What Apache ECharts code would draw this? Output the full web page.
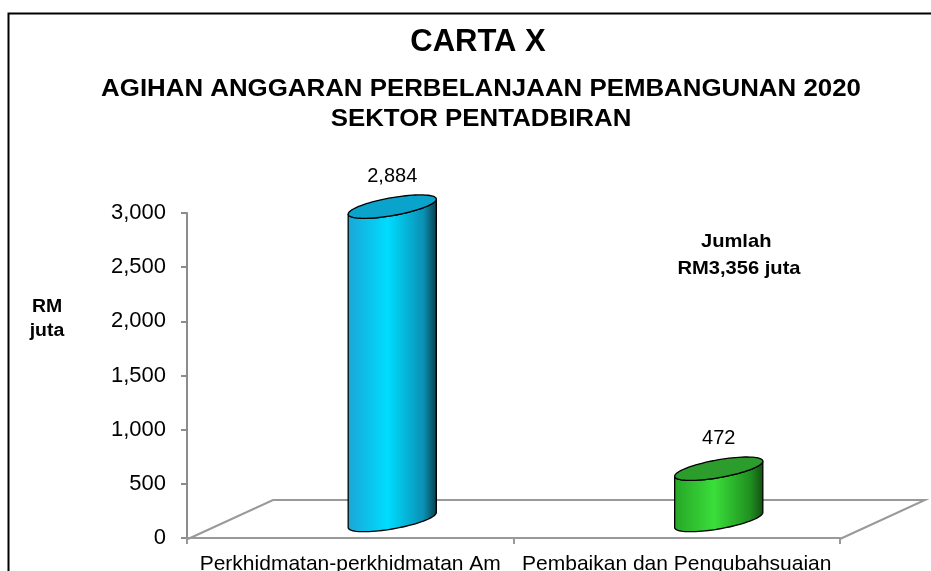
<!DOCTYPE html>
<html>
<head>
<meta charset="utf-8">
<script src="https://cdn.jsdelivr.net/npm/echarts@6/dist/echarts.min.js"></script>
<style>
  html, body { margin: 0; padding: 0; background: #fff; }
  #carta { width: 931px; height: 571px; }
</style>
</head>
<body>
<div id="carta"></div>
<script>
// data
const categories = ['Perkhidmatan-perkhidmatan Am', 'Pembaikan dan Pengubahsuaian'];
const values = [2884, 472];
const yTicks = [0, 500, 1000, 1500, 2000, 2500, 3000];
const jumlahText = ['Jumlah ', 'RM3,356 juta'];

const FONT = '"Liberation Sans", Arial, sans-serif';

const palette = [
  { top: '#0aa3cc', stops: ['#1aa6d6', '#00dcff', '#0a90b4', '#0a3c4c'] },
  { top: '#2c9c2c', stops: ['#27a527', '#3ade3a', '#209020', '#134f13'] }
];

function fmt(v) {
  return String(v).replace(/\B(?=(\d{3})+(?!\d))/g, ',');
}

// points on a slanted ellipse (cylinder cap)
function capPoints(cx, cy, a, b, t0, t1, n) {
  const pts = [];
  for (let i = 0; i <= n; i++) {
    const t = t0 + (t1 - t0) * i / n;
    pts.push([cx + a * Math.cos(t), cy + b * Math.sin(t) - 0.17 * a * Math.cos(t)]);
  }
  return pts;
}

function renderCylinder(params, api) {
  const idx = params.dataIndex;
  const top = api.coord([api.value(0), api.value(1)]);
  const bot = api.coord([api.value(0), 0]);
  const a = api.size([1, 0])[0] * 0.27 / 2;
  const b = 9;
  const cx = top[0];
  const col = palette[idx];

  const body = capPoints(cx, bot[1], a, b, 0, Math.PI, 40)
    .concat(capPoints(cx, top[1], a, b, Math.PI, 0, 40));
  const cap = capPoints(cx, top[1], a, b, 0, Math.PI * 2, 80);

  return {
    type: 'group',
    children: [
      {
        type: 'polygon',
        shape: { points: body },
        style: {
          fill: new echarts.graphic.LinearGradient(0, 0, 1, 0, [
            { offset: 0, color: col.stops[0] },
            { offset: 0.45, color: col.stops[1] },
            { offset: 0.85, color: col.stops[2] },
            { offset: 1, color: col.stops[3] }
          ]),
          stroke: '#000',
          lineWidth: 1.3
        }
      },
      {
        type: 'polygon',
        shape: { points: cap },
        style: { fill: col.top, stroke: '#000', lineWidth: 1.3 }
      },
      {
        type: 'text',
        style: {
          text: fmt(api.value(1)),
          x: cx,
          y: top[1] - 30,
          align: 'center',
          verticalAlign: 'middle',
          textAlign: 'center',
          textVerticalAlign: 'middle',
          font: '20px ' + FONT,
          fill: '#000'
        }
      }
    ]
  };
}

const chart = echarts.init(document.getElementById('carta'));

const option = {
  backgroundColor: '#fff',
  animation: false,
  grid: [
    { left: 187, right: 91, top: 213, bottom: 33, outerBoundsMode: 'none', containLabel: false },
    { left: 229, right: 49, top: 194, bottom: 51, outerBoundsMode: 'none', containLabel: false }
  ],
  xAxis: [
    {
      type: 'category',
      gridIndex: 0,
      data: categories,
      axisLine: { lineStyle: { color: '#999', width: 2 } },
      axisTick: { show: true, length: 6, lineStyle: { color: '#999', width: 2 } },
      axisLabel: { color: '#000', fontSize: 21, fontFamily: FONT, margin: 16, interval: 0 }
    },
    {
      type: 'category',
      gridIndex: 1,
      data: categories,
      show: false
    }
  ],
  yAxis: [
    {
      type: 'value',
      gridIndex: 0,
      min: yTicks[0],
      max: yTicks[yTicks.length - 1],
      interval: 500,
      splitLine: { show: false },
      axisLine: { show: true, lineStyle: { color: '#8c8c8c', width: 2 } },
      axisTick: { show: true, length: 6, lineStyle: { color: '#8c8c8c', width: 2 } },
      axisLabel: { color: '#000', fontSize: 22, fontFamily: FONT, margin: 21, formatter: fmt }
    },
    {
      type: 'value',
      gridIndex: 1,
      min: yTicks[0],
      max: yTicks[yTicks.length - 1],
      interval: 500,
      show: false,
      splitLine: { show: false }
    }
  ],
  graphic: [
    {
      type: 'rect', z: 0,
      shape: { x: 8.5, y: 13.5, width: 1000, height: 1000 },
      style: { fill: 'none', stroke: '#000', lineWidth: 2 }
    },
    {
      type: 'polyline', z: 1,
      shape: { points: [[188, 539], [273, 500], [925, 500], [840, 539]] },
      style: { stroke: '#999', lineWidth: 2, fill: 'none' }
    },
    {
      type: 'text', z: 5, x: 478, y: 42,
      style: { text: 'CARTA X', font: 'bold 31px ' + FONT, fill: '#000', align: 'center', verticalAlign: 'middle', textAlign: 'center', textVerticalAlign: 'middle' }
    },
    {
      type: 'text', z: 5, x: 481, y: 90, scaleX: 1.1,
      style: { text: 'AGIHAN ANGGARAN PERBELANJAAN PEMBANGUNAN 2020', font: 'bold 23.5px ' + FONT, fill: '#000', align: 'center', verticalAlign: 'middle', textAlign: 'center', textVerticalAlign: 'middle' }
    },
    {
      type: 'text', z: 5, x: 481, y: 120, scaleX: 1.1,
      style: { text: 'SEKTOR PENTADBIRAN', font: 'bold 23.5px ' + FONT, fill: '#000', align: 'center', verticalAlign: 'middle', textAlign: 'center', textVerticalAlign: 'middle' }
    },
    {
      type: 'text', z: 5, x: 47, y: 319, scaleX: 1.08,
      style: { text: 'RM\njuta', font: 'bold 18px ' + FONT, lineHeight: 24, fill: '#000', align: 'center', verticalAlign: 'middle', textAlign: 'center', textVerticalAlign: 'middle' }
    },
    {
      type: 'text', z: 5, x: 739, y: 255, scaleX: 1.06,
      style: { text: jumlahText.join('\n'), font: 'bold 19px ' + FONT, lineHeight: 27, fill: '#000', align: 'center', verticalAlign: 'middle', textAlign: 'center', textVerticalAlign: 'middle' }
    }
  ],
  series: [
    {
      type: 'custom',
      xAxisIndex: 1,
      yAxisIndex: 1,
      z: 3,
      renderItem: renderCylinder,
      encode: { x: 0, y: 1 },
      data: categories.map(function (c, i) { return [i, values[i]]; })
    }
  ]
};

chart.setOption(option);

window.addEventListener('resize', function () {
  chart.resize();
});
</script>
</body>
</html>
